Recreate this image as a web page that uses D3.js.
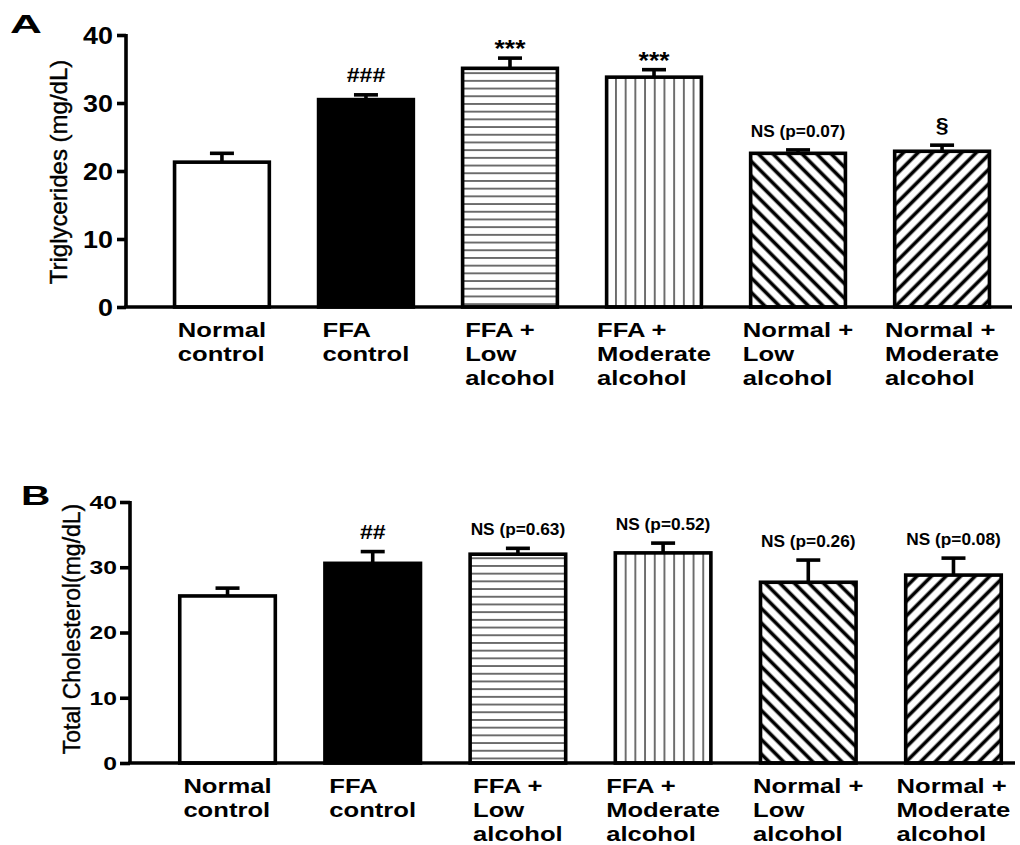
<!DOCTYPE html>
<html>
<head>
<meta charset="utf-8">
<script src="https://cdn.jsdelivr.net/npm/d3@7/dist/d3.min.js"></script>
<style>
  html, body { margin: 0; padding: 0; background: #fff; }
  svg { display: block; font-family: "Liberation Sans", Arial, Helvetica, sans-serif; }
</style>
</head>
<body>
<svg id="chart" width="1020" height="845"></svg>
<script>
// Group names, one array entry per line of the axis label
const categories = [
  ["Normal", "control"],
  ["FFA", "control"],
  ["FFA +", "Low", "alcohol"],
  ["FFA +", "Moderate", "alcohol"],
  ["Normal +", "Low", "alcohol"],
  ["Normal +", "Moderate", "alcohol"]
];
const fills = ["white", "black", "hlines", "vlines", "backdiag", "fwddiag"];

// Panel A: triglycerides (mean and SEM, mg/dL)
const trigMean = [21.3, 30.5, 35.1, 33.8, 22.6, 22.9];
const trigSem  = [1.3, 0.7, 1.5, 1.1, 0.5, 0.9];
const trigMarks = ["", "###", "***", "***", "NS (p=0.07)", "§"];

// Panel B: total cholesterol (mean and SEM, mg/dL)
const cholMean = [25.6, 30.6, 32.0, 32.2, 27.7, 28.8];
const cholSem  = [1.2, 1.8, 0.9, 1.5, 3.4, 2.6];
const cholMarks = ["", "##", "NS (p=0.63)", "NS (p=0.52)", "NS (p=0.26)", "NS (p=0.08)"];

const yTicks = [0, 10, 20, 30, 40];

const svg = d3.select("#chart");
svg.append("rect").attr("width", 1020).attr("height", 845).attr("fill", "#fff");

// Hatch fills
const defs = svg.append("defs");
function hatch(id, size, angle, width, color, horizontal) {
  const p = defs.append("pattern")
    .attr("id", id)
    .attr("patternUnits", "userSpaceOnUse")
    .attr("width", size).attr("height", size);
  if (angle) p.attr("patternTransform", `rotate(${angle})`);
  p.append("rect").attr("width", size).attr("height", size).attr("fill", "#fff");
  if (horizontal) {
    p.append("line").attr("x1", 0).attr("x2", size).attr("y1", size / 2).attr("y2", size / 2)
      .attr("stroke", color).attr("stroke-width", width);
  } else {
    p.append("line").attr("y1", 0).attr("y2", size).attr("x1", size / 2).attr("x2", size / 2)
      .attr("stroke", color).attr("stroke-width", width);
  }
}
hatch("hlines", 7.7, 0, 1.4, "#333", true);
hatch("vlines", 9.7, 0, 1.4, "#333", false);
hatch("backdiag", 10.3, -45, 3.6, "#000", false);
hatch("fwddiag", 10.3, 45, 3.6, "#000", false);

function fillOf(f) {
  if (f === "white") return "#fff";
  if (f === "black") return "#000";
  return `url(#${f})`;
}

function scaledText(parent, x, y, str, size, sx, anchor, weight) {
  return parent.append("text")
    .attr("transform", `translate(${x},${y}) scale(${sx},1)`)
    .attr("text-anchor", anchor)
    .attr("font-size", size)
    .attr("font-weight", weight || "bold")
    .attr("fill", "#000")
    .text(str);
}

function panel(cfg) {
  const g = svg.append("g");
  const y = d3.scaleLinear().domain([0, 40]).range([cfg.yZero, cfg.yTop]);
  const x = d3.scaleBand().domain(d3.range(categories.length))
    .range(cfg.band).paddingInner(0.317).paddingOuter(0.158);
  const bw = x.bandwidth();
  const sw = 3.6;

  // Bars
  const bars = g.selectAll("g.bar").data(cfg.mean.map((m, i) => ({ m, s: cfg.sem[i], i })))
    .join("g").attr("class", "bar");
  bars.append("rect")
    .attr("x", d => x(d.i) + sw / 2)
    .attr("width", bw - sw)
    .attr("y", d => y(d.m))
    .attr("height", d => y(0) - y(d.m))
    .attr("fill", d => fillOf(fills[d.i]))
    .attr("stroke", "#000")
    .attr("stroke-width", sw);

  // Error bars (upper half)
  bars.append("line")
    .attr("x1", d => x(d.i) + bw / 2).attr("x2", d => x(d.i) + bw / 2)
    .attr("y1", d => y(d.m)).attr("y2", d => y(d.m + d.s))
    .attr("stroke", "#000").attr("stroke-width", sw);
  bars.append("line")
    .attr("x1", d => x(d.i) + bw / 2 - 12).attr("x2", d => x(d.i) + bw / 2 + 12)
    .attr("y1", d => y(d.m + d.s)).attr("y2", d => y(d.m + d.s))
    .attr("stroke", "#000").attr("stroke-width", sw);

  // Significance marks
  cfg.marks.forEach((t, i) => {
    if (!t) return;
    const top = y(cfg.mean[i] + cfg.sem[i]);
    const cx = x(i) + bw / 2;
    if (t.startsWith("NS")) {
      scaledText(g, cx, top - 13, t, 16, 1.08, "middle");
    } else if (t.startsWith("*")) {
      scaledText(g, cx, top - 1, t, 24, 1.1, "middle");
    } else {
      scaledText(g, cx, top - 13, t, 21, 1.1, "middle");
    }
  });

  // Y axis
  const yAxis = d3.axisLeft(y).tickValues(yTicks).tickSize(cfg.tickLen).tickPadding(0);
  const ya = g.append("g").attr("transform", `translate(${cfg.xAxis},0)`).call(yAxis);
  ya.select(".domain").attr("stroke", "#000").attr("stroke-width", sw)
    .attr("d", `M0,${y(0)}V${y(40) - 1}`);
  ya.selectAll(".tick line").attr("stroke", "#000").attr("stroke-width", sw);
  ya.selectAll(".tick text")
    .attr("x", 0).attr("dy", null).attr("y", 0)
    .attr("fill", "#000")
    .attr("font-family", null)
    .attr("font-size", cfg.tickFont).attr("font-weight", "bold")
    .attr("dominant-baseline", "central")
    .attr("transform", `translate(${-cfg.tickLen - cfg.tickPad},0) scale(${cfg.tickScale},1)`);

  // X axis baseline
  g.append("line")
    .attr("x1", cfg.xAxis - sw / 2).attr("x2", cfg.xEnd)
    .attr("y1", y(0)).attr("y2", y(0))
    .attr("stroke", "#000").attr("stroke-width", sw);

  // Category labels: left-aligned lines, block centred under the bar
  categories.forEach((lines, i) => {
    const outer = g.append("g").attr("transform", `translate(${x(i) + bw / 2},${cfg.labelY})`);
    const inner = outer.append("g");
    const texts = lines.map((ln, k) => inner.append("text")
      .attr("x", 0).attr("y", k * 24)
      .attr("font-size", 21).attr("font-weight", "bold").attr("fill", "#000")
      .text(ln));
    const w = d3.max(texts, t => t.node().getComputedTextLength());
    inner.attr("transform", `translate(${-w * 1.22 / 2},0) scale(1.22,1)`);
  });

  // Y title
  g.append("text")
    .attr("transform", `translate(${cfg.titleX},${cfg.titleY}) rotate(-90)`)
    .attr("text-anchor", "middle")
    .attr("font-size", cfg.titleSize)
    .attr("fill", "#000").attr("stroke", "#000").attr("stroke-width", 0.4)
    .text(cfg.title);

  // Panel letter
  scaledText(g, cfg.letterX, cfg.letterY, cfg.letter, cfg.letterSize, cfg.letterScale, "start");
}

panel({
  mean: trigMean, sem: trigSem, marks: trigMarks,
  yZero: 307, yTop: 35, band: [150, 1014], xAxis: 126, xEnd: 1012,
  tickLen: 9, tickPad: 4, tickFont: 24, tickScale: 1.12,
  labelY: 337, title: "Triglycerides (mg/dL)", titleX: 67, titleY: 172, titleSize: 24,
  letter: "A", letterX: 10, letterY: 33, letterSize: 26, letterScale: 1.7
});

panel({
  mean: cholMean, sem: cholSem, marks: cholMarks,
  yZero: 763, yTop: 502, band: [155, 1026], xAxis: 130, xEnd: 1015,
  tickLen: 10, tickPad: 3, tickFont: 19, tickScale: 1.3,
  labelY: 793, title: "Total Cholesterol(mg/dL)", titleX: 80, titleY: 629, titleSize: 23,
  letter: "B", letterX: 21, letterY: 505, letterSize: 28, letterScale: 1.45
});
</script>
</body>
</html>
